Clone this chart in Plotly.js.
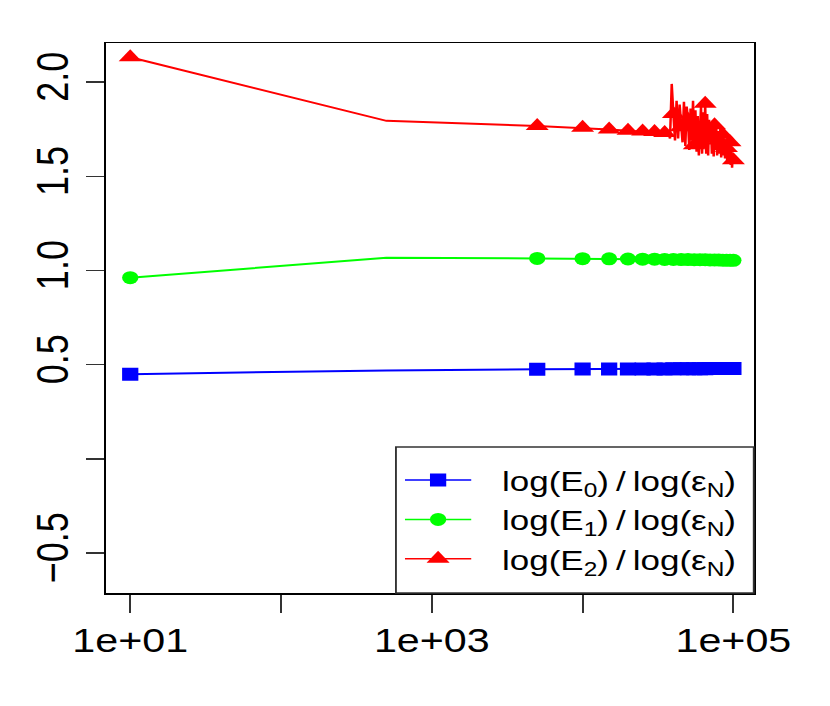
<!DOCTYPE html>
<html>
<head>
<meta charset="utf-8">
<script src="https://cdn.plot.ly/plotly-3.0.1.min.js"></script>
<style>
  html, body { margin: 0; padding: 0; background: #fff; overflow: hidden; }
  #wrap { width: 664px; height: 706px; transform: scaleX(1.25); transform-origin: 0 0; }
</style>
</head>
<body>
<div id="wrap"></div>
<script>
// ---- data ----
const N_BG = [10, 500, 5000, 10000, 15000, 20000, 25000, 30000, 35000, 40000, 45000, 50000,
              55000, 60000, 65000, 70000, 75000, 80000, 85000, 90000, 95000, 100000];
const E0 = [0.450, 0.470, 0.476, 0.477, 0.477, 0.478, 0.478, 0.478, 0.478, 0.479, 0.479, 0.479,
            0.479, 0.479, 0.479, 0.480, 0.480, 0.480, 0.480, 0.480, 0.480, 0.480];
const E1 = [0.962, 1.067, 1.064, 1.063, 1.062, 1.061, 1.060, 1.060, 1.059, 1.059, 1.058, 1.058,
            1.057, 1.057, 1.057, 1.056, 1.056, 1.056, 1.055, 1.055, 1.055, 1.054];

const N_E2 = [10, 500, 5000, 10000, 15000, 20000, 25000, 30000,
  35000, 36000, 37000, 38000, 39000, 40000, 41000, 42000, 43000, 44000,
  45000, 46000, 47000, 48000, 49000, 50000, 51000, 52000, 53000, 54000,
  55000, 56000, 57000, 58000, 59000, 60000, 61000, 62000, 63000, 64000,
  65000, 66000, 67000, 68000, 69000, 70000, 71000, 72000, 73000, 74000,
  75000, 76000, 77000, 78000, 79000, 80000, 81000, 82000, 83000, 84000,
  85000, 86000, 87000, 88000, 89000, 90000, 91000, 92000, 93000, 94000,
  95000, 96000, 97000, 98000, 99000, 100000];
const E2 = [2.131, 1.794, 1.767, 1.757, 1.748, 1.742, 1.738, 1.735,
  1.729, 1.725, 1.735, 1.700, 1.990, 1.830, 1.690, 1.900, 1.700, 1.880,
  1.760, 1.680, 1.895, 1.660, 1.870, 1.800, 1.640, 1.860, 1.690, 1.900,
  1.665, 1.850, 1.630, 1.820, 1.610, 1.730, 1.870, 1.620, 1.840, 1.650,
  1.885, 1.620, 1.830, 1.610, 1.800, 1.700, 1.780, 1.620, 1.760, 1.605,
  1.770, 1.640, 1.750, 1.610, 1.740, 1.690, 1.620, 1.760, 1.600, 1.730,
  1.720, 1.610, 1.700, 1.595, 1.690, 1.650, 1.580, 1.700, 1.590, 1.670,
  1.680, 1.560, 1.650, 1.545, 1.620, 1.585];

const X_TICKS = [10, 1000, 100000];
const X_TICK_LABELS = ['1e+01', '1e+03', '1e+05'];
const X_MINOR_TICKS = [100, 10000];
const Y_TICKS = [-0.5, 0.5, 1.0, 1.5, 2.0];
const Y_TICK_LABELS = ['\u22120.5', '0.5', '1.0', '1.5', '2.0'];
const Y_MINOR_TICKS = [0];

const LABELS = [
  'log(E<sub>0</sub>)\u2009/\u2009log(\u03b5<sub>N</sub>)',
  'log(E<sub>1</sub>)\u2009/\u2009log(\u03b5<sub>N</sub>)',
  'log(E<sub>2</sub>)\u2009/\u2009log(\u03b5<sub>N</sub>)'
];

// points carrying a plotting symbol
const marked = n => n === 10 || n % 5000 === 0;
const pick = (xs, ys) => {
  const px = [], py = [];
  xs.forEach((n, i) => { if (marked(n)) { px.push(n); py.push(ys[i]); } });
  return [px, py];
};

const series = [
  {x: N_BG, y: E0, color: '#0000ff', symbol: 'square', size: 13, name: LABELS[0]},
  {x: N_BG, y: E1, color: '#00ff00', symbol: 'circle', size: 13, name: LABELS[1]},
  {x: N_E2, y: E2, color: '#ff0000', symbol: 'triangle-up', size: 16, name: LABELS[2]}
];

const traces = [];
series.forEach(s => {
  traces.push({x: s.x, y: s.y, type: 'scatter', mode: 'lines',
    line: {color: s.color, width: 2}, showlegend: false, hoverinfo: 'skip'});
  const [px, py] = pick(s.x, s.y);
  traces.push({x: px, y: py, type: 'scatter', mode: 'markers',
    marker: {color: s.color, symbol: s.symbol, size: s.size, line: {width: 0}},
    showlegend: false, hoverinfo: 'skip'});
});
series.forEach(s => {
  traces.push({x: [null], y: [null], type: 'scatter', mode: 'lines+markers',
    name: '\u2002\u2009' + s.name,
    line: {color: s.color, width: 1.5},
    marker: {color: s.color, symbol: s.symbol, size: s.size, line: {width: 0}}});
});

const FONT = 'Liberation Sans, Arial, Helvetica, sans-serif';
const TICKSTYLE = {ticks: 'outside', tickwidth: 1.5, tickcolor: '#333'};

const layout = {
  width: 664, height: 706,
  margin: {l: 85, r: 61, t: 43, b: 113, pad: 0},
  paper_bgcolor: '#fff', plot_bgcolor: '#fff',
  showlegend: true,
  xaxis: Object.assign({
    type: 'log', range: [0.841, 5.135],
    tickmode: 'array', tickvals: X_TICKS, ticktext: X_TICK_LABELS, ticklen: 18,
    minor: Object.assign({tickmode: 'array', tickvals: X_MINOR_TICKS, ticklen: 18, showgrid: false}, TICKSTYLE),
    showline: true, linecolor: '#000', linewidth: 1.5, mirror: true,
    showgrid: false, zeroline: false,
    tickfont: {family: FONT, size: 33, color: '#000'}
  }, TICKSTYLE),
  yaxis: Object.assign({
    range: [-0.711, 2.207],
    tickmode: 'array', tickvals: Y_TICKS, ticktext: Y_TICK_LABELS, ticklen: 15,
    minor: Object.assign({tickmode: 'array', tickvals: Y_MINOR_TICKS, ticklen: 15, showgrid: false}, TICKSTYLE),
    tickangle: -90,
    showline: true, linecolor: '#000', linewidth: 1.5, mirror: true,
    showgrid: false, zeroline: false,
    tickfont: {family: FONT, size: 36, color: '#000'}
  }, TICKSTYLE),
  shapes: [{
    type: 'rect', xref: 'paper', yref: 'paper',
    x0: 0.4474, x1: 1, y0: 0, y1: 0.2656,
    line: {color: '#333', width: 1.5}, fillcolor: '#fff', layer: 'above'
  }],
  legend: {
    x: 0.4517, xanchor: 'left', y: 0.133, yanchor: 'middle',
    bgcolor: 'rgba(0,0,0,0)', borderwidth: 0,
    font: {family: FONT, size: 28, color: '#000'},
    itemwidth: 53, tracegroupgap: 0
  }
};

Plotly.newPlot('wrap', traces, layout, {staticPlot: true, displayModeBar: false});
</script>
</body>
</html>
